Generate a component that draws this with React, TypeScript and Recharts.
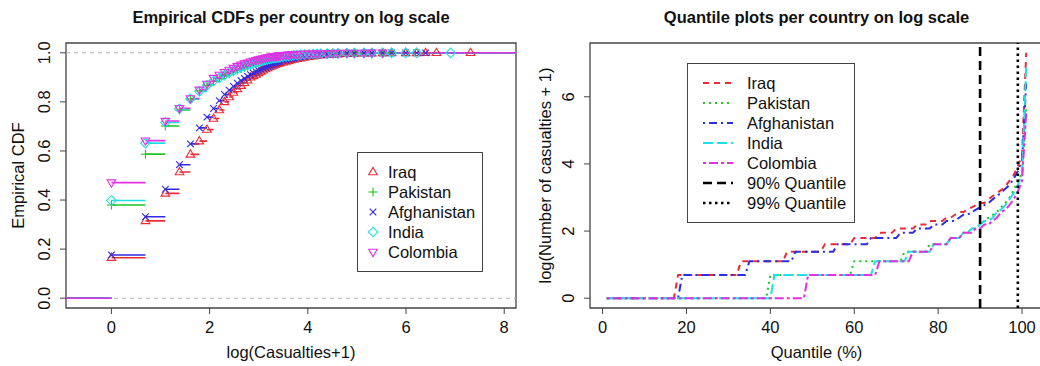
import {
  ComposedChart,
  Line,
  Scatter,
  XAxis,
  YAxis,
  ReferenceLine,
  ReferenceArea,
  Legend,
} from "recharts";

const FONT = '"Liberation Sans", Arial, Helvetica, sans-serif';
const TEXT = "#111";
const FRAME = "#444";
const FS = 16.5;

const countries = ["Iraq", "Pakistan", "Afghanistan", "India", "Colombia"];
const countryColors = ["#ea2c38", "#22c422", "#2c2ce2", "#1fdfe6", "#e230e2"];
const markerKinds = ["triangle", "plus", "cross", "diamond", "triangleDown"];
const lineDashes = ["6 5", "2 4", "2 4 8 4", "10 4", "3 3 9 3"];

// casualty counts where the empirical CDFs were read
const casualties = [
  0, 1, 2, 3, 4, 5, 6, 7, 8, 9,
  10, 11, 12, 13, 14, 15, 16, 17, 18, 19,
  20, 21, 22, 23, 24, 25, 26, 27, 28, 29,
  30, 32, 34, 36, 38, 40, 43, 46, 50, 55,
  60, 65, 70, 80, 90, 100, 120, 140, 170, 200,
  250, 300, 400, 500, 600, 750, 1000, 1500,
];

const iraqCdf = [
  0.165, 0.315, 0.427, 0.514, 0.586, 0.64, 0.687, 0.732, 0.767, 0.8,
  0.82, 0.838, 0.853, 0.866, 0.878, 0.888, 0.9, 0.906, 0.912, 0.918,
  0.924, 0.929, 0.934, 0.938, 0.942, 0.945, 0.948, 0.951, 0.954, 0.956,
  0.958, 0.962, 0.965, 0.968, 0.971, 0.973, 0.976, 0.978, 0.981, 0.984,
  0.986, 0.988, 0.99, 0.992, 0.993, 0.994, 0.996, 0.997, 0.998, 0.9984,
  0.9988, 0.9991, 0.9994, 0.9996, 0.9998, 0.9999, null, 1,
];

const pakistanCdf = [
  0.38, 0.587, 0.702, 0.767, 0.812, 0.845, 0.868, 0.884, 0.895, 0.906,
  0.915, 0.923, 0.93, 0.936, 0.941, 0.946, 0.95, 0.954, 0.957, 0.96,
  0.963, 0.965, 0.967, 0.969, 0.971, 0.973, 0.975, 0.976, 0.977, 0.978,
  0.979, 0.981, 0.983, 0.985, 0.987, 0.99, 0.991, 0.992, 0.993, 0.994,
  0.995, 0.996, 0.9965, 0.997, 0.9975, 0.998, 0.9985, 0.999, 0.9993, 0.9996,
  0.9998, 1, null, null, null, null, null, null,
];

const afghanistanCdf = [
  0.176, 0.332, 0.444, 0.544, 0.629, 0.694, 0.738, 0.773, 0.805, 0.83,
  0.848, 0.863, 0.876, 0.887, 0.896, 0.904, 0.911, 0.917, 0.923, 0.928,
  0.933, 0.937, 0.941, 0.945, 0.948, 0.951, 0.954, 0.957, 0.96, 0.962,
  0.964, 0.968, 0.971, 0.974, 0.976, 0.978, 0.981, 0.983, 0.985, 0.988,
  0.991, 0.992, 0.993, 0.995, 0.996, 0.997, 0.998, 0.9985, 0.999, 0.9993,
  0.9995, 0.9997, 0.9998, 0.9999, 1, null, null, null,
];

const indiaCdf = [
  0.398, 0.632, 0.716, 0.772, 0.812, 0.843, 0.867, 0.885, 0.898, 0.91,
  0.92, 0.928, 0.935, 0.941, 0.946, 0.95, 0.954, 0.958, 0.961, 0.964,
  0.967, 0.969, 0.971, 0.973, 0.975, 0.977, 0.978, 0.979, 0.98, 0.981,
  0.982, 0.984, 0.986, 0.987, 0.988, 0.99, 0.991, 0.992, 0.993, 0.994,
  0.995, 0.9955, 0.996, 0.997, 0.9975, 0.998, 0.9985, 0.999, 0.9992, 0.9994,
  0.9996, 0.9997, 0.9998, 0.9999, null, null, 1, null,
];

const colombiaCdf = [
  0.471, 0.642, 0.722, 0.774, 0.814, 0.849, 0.873, 0.897, 0.91, 0.921,
  0.93, 0.938, 0.945, 0.951, 0.956, 0.96, 0.964, 0.967, 0.97, 0.973,
  0.975, 0.977, 0.979, 0.981, 0.982, 0.984, 0.985, 0.986, 0.987, 0.988,
  0.989, 0.99, 0.991, 0.992, 0.993, 0.9935, 0.994, 0.995, 0.9955, 0.996,
  0.9965, 0.997, 0.9975, 0.998, 0.9985, 0.999, 0.9993, 0.9995, 0.9997, 0.9998,
  1, null, null, null, null, null, null, null,
];

const cdfs = [iraqCdf, pakistanCdf, afghanistanCdf, indiaCdf, colombiaCdf];

const cdfTicks = [0, 0.2, 0.4, 0.6, 0.8, 1];
const logTicks = [0, 2, 4, 6, 8];
const percentTicks = [0, 20, 40, 60, 80, 100];
const logCountTicks = [0, 2, 4, 6];
const quantileMarks = [90, 99];
const quantileMarkLabels = ["90% Quantile", "99% Quantile"];
const quantileMarkDashes = ["9 5", "2.5 3.5"];

const LOG_X: [number, number] = [-0.925, 8.24];
const CDF_Y: [number, number] = [-0.04, 1.04];
const PCT_X: [number, number] = [-3, 105];
const LOGN_Y: [number, number] = [-0.2924, 7.6024];

type Pt = { x: number; y: number | null };

function ecdfPoints(cdf: (number | null)[]): Pt[] {
  const pts: Pt[] = [];
  casualties.forEach((c, i) => {
    const v = cdf[i];
    if (v != null) pts.push({ x: Math.log(c + 1), y: v });
  });
  return pts;
}

// horizontal step pieces, broken with nulls (no verticals, like plot.ecdf)
function ecdfSteps(pts: Pt[]): Pt[] {
  const rows: Pt[] = [
    { x: LOG_X[0], y: 0 },
    { x: pts[0].x, y: 0 },
    { x: pts[0].x, y: null },
  ];
  pts.forEach((p, i) => {
    const next = i + 1 < pts.length ? pts[i + 1].x : LOG_X[1];
    rows.push({ x: p.x, y: p.y }, { x: next, y: p.y }, { x: next, y: null });
  });
  return rows;
}

const percents = Array.from({ length: 101 }, (_, k) => k);

// quantile at each whole percent, drawn at index k+1 (1..101)
function quantileLine(cdf: (number | null)[]): Pt[] {
  return percents.map((k) => {
    const i = cdf.findIndex((v) => v != null && v >= k / 100 - 1e-9);
    return { x: k + 1, y: Math.log(casualties[i] + 1) };
  });
}

function Marker({ kind, cx, cy, color }: { kind: string; cx: number; cy: number; color: string }) {
  const sw = 1.1;
  if (kind === "triangle")
    return <polygon points={`${cx},${cy - 4.6} ${cx - 4.3},${cy + 2.7} ${cx + 4.3},${cy + 2.7}`} fill="none" stroke={color} strokeWidth={sw} />;
  if (kind === "triangleDown")
    return <polygon points={`${cx},${cy + 4.6} ${cx - 4.3},${cy - 2.7} ${cx + 4.3},${cy - 2.7}`} fill="none" stroke={color} strokeWidth={sw} />;
  if (kind === "diamond")
    return <polygon points={`${cx},${cy - 4.8} ${cx + 4.8},${cy} ${cx},${cy + 4.8} ${cx - 4.8},${cy}`} fill="none" stroke={color} strokeWidth={sw} />;
  if (kind === "plus")
    return (
      <g stroke={color} strokeWidth={sw}>
        <line x1={cx - 4.5} y1={cy} x2={cx + 4.5} y2={cy} />
        <line x1={cx} y1={cy - 4.5} x2={cx} y2={cy + 4.5} />
      </g>
    );
  return (
    <g stroke={color} strokeWidth={sw}>
      <line x1={cx - 3.3} y1={cy - 3.3} x2={cx + 3.3} y2={cy + 3.3} />
      <line x1={cx - 3.3} y1={cy + 3.3} x2={cx + 3.3} y2={cy - 3.3} />
    </g>
  );
}

function SideTick(props: any) {
  const { x, y, payload, digits } = props;
  return (
    <text
      x={x}
      y={y}
      dy="0.36em"
      transform={`rotate(-90 ${x} ${y})`}
      textAnchor="middle"
      fontSize={FS}
      fontFamily={FONT}
      fill={TEXT}
    >
      {Number(payload.value).toFixed(digits)}
    </text>
  );
}

const tickStyle = { fontSize: FS, fill: TEXT, fontFamily: FONT };
const legendText = { fontSize: FS, color: TEXT, fontFamily: FONT, lineHeight: "20px", whiteSpace: "nowrap" as const };

function CdfLegend() {
  return (
    <div style={{ border: `1px solid ${FRAME}`, background: "#fff", padding: "9px 0", width: 126, boxSizing: "border-box" }}>
      {countries.map((name, i) => (
        <div key={name} style={{ display: "flex", alignItems: "center", height: 20 }}>
          <svg width={30} height={20} style={{ flex: "none" }}>
            <Marker kind={markerKinds[i]} cx={15} cy={10} color={countryColors[i]} />
          </svg>
          <span style={legendText}>{name}</span>
        </div>
      ))}
    </div>
  );
}

function QuantileLegend() {
  const rows = [
    ...countries.map((name, i) => ({ name, color: countryColors[i], dash: lineDashes[i], w: 2 })),
    ...quantileMarkLabels.map((name, i) => ({ name, color: "#000", dash: quantileMarkDashes[i], w: 2.6 })),
  ];
  return (
    <div style={{ border: `1px solid ${FRAME}`, background: "#fff", padding: "9px 0", width: 168, boxSizing: "border-box" }}>
      {rows.map((r) => (
        <div key={r.name} style={{ display: "flex", alignItems: "center", height: 20 }}>
          <svg width={59} height={20} style={{ flex: "none" }}>
            <line x1={15} y1={10} x2={45} y2={10} stroke={r.color} strokeWidth={r.w} strokeDasharray={r.dash} />
          </svg>
          <span style={legendText}>{r.name}</span>
        </div>
      ))}
    </div>
  );
}

const titleStyle = {
  position: "absolute" as const,
  top: 7,
  fontFamily: FONT,
  fontWeight: "bold" as const,
  fontSize: FS,
  lineHeight: "20px",
  color: TEXT,
  textAlign: "center" as const,
};

export default function App() {
  const points = cdfs.map(ecdfPoints);
  const steps = points.map(ecdfSteps);
  const quantiles = cdfs.map(quantileLine);

  return (
    <div style={{ position: "absolute", left: 0, top: 0, width: 1040, height: 366, overflow: "hidden", background: "#fff" }}>
      <div style={{ position: "absolute", left: 0, top: 0 }}>
        <ComposedChart width={520} height={366} margin={{ top: 43, right: 4, bottom: 0, left: 0 }}>
          <XAxis
            type="number"
            dataKey="x"
            domain={LOG_X}
            ticks={logTicks}
            allowDataOverflow
            axisLine={false}
            tickLine={{ stroke: FRAME }}
            tickSize={6}
            tickMargin={7}
            height={58}
            tick={tickStyle}
            label={{ value: "log(Casualties+1)", position: "insideBottom", offset: 8, fontSize: FS, fill: TEXT, fontFamily: FONT }}
          />
          <YAxis
            type="number"
            dataKey="y"
            domain={CDF_Y}
            ticks={cdfTicks}
            allowDataOverflow
            axisLine={false}
            tickLine={{ stroke: FRAME }}
            tickSize={6}
            tickMargin={16}
            width={66}
            tick={(p: any) => <SideTick {...p} digits={1} />}
            label={{
              value: "Empirical CDF",
              angle: -90,
              position: "insideLeft",
              offset: 18,
              fontSize: FS,
              fill: TEXT,
              fontFamily: FONT,
              style: { textAnchor: "middle" },
            }}
          />
          <ReferenceLine y={0} stroke="#b3b3b3" strokeDasharray="4 4" />
          <ReferenceLine y={1} stroke="#b3b3b3" strokeDasharray="4 4" />
          {countries.map((name, i) => [
            <Line
              key={`${name}-steps`}
              data={steps[i]}
              dataKey="y"
              stroke={countryColors[i]}
              strokeWidth={1.6}
              dot={false}
              activeDot={false}
              connectNulls={false}
              isAnimationActive={false}
            />,
            <Scatter
              key={`${name}-pts`}
              data={points[i]}
              dataKey="y"
              isAnimationActive={false}
              shape={(p: any) => <Marker kind={markerKinds[i]} cx={p.cx} cy={p.cy} color={countryColors[i]} />}
            />,
          ])}
          <ReferenceArea x1={LOG_X[0]} x2={LOG_X[1]} y1={CDF_Y[0]} y2={CDF_Y[1]} fill="none" stroke={FRAME} strokeWidth={1.3} ifOverflow="visible" />
          <Legend
            layout="vertical"
            align="center"
            verticalAlign="middle"
            wrapperStyle={{ left: 357, top: 152, width: 126, height: 119 }}
            content={() => <CdfLegend />}
          />
        </ComposedChart>
        <div style={{ ...titleStyle, left: 66, width: 450 }}>Empirical CDFs per country on log scale</div>
      </div>

      <div style={{ position: "absolute", left: 520, top: 0 }}>
        <ComposedChart width={523} height={366} margin={{ top: 43, right: 0, bottom: 0, left: 0 }}>
          <XAxis
            type="number"
            dataKey="x"
            domain={PCT_X}
            ticks={percentTicks}
            allowDataOverflow
            axisLine={false}
            tickLine={{ stroke: FRAME }}
            tickSize={6}
            tickMargin={7}
            height={58}
            tick={tickStyle}
            label={{ value: "Quantile (%)", position: "insideBottom", offset: 8, fontSize: FS, fill: TEXT, fontFamily: FONT }}
          />
          <YAxis
            type="number"
            dataKey="y"
            domain={LOGN_Y}
            ticks={logCountTicks}
            allowDataOverflow
            axisLine={false}
            tickLine={{ stroke: FRAME }}
            tickSize={6}
            tickMargin={16}
            width={70}
            tick={(p: any) => <SideTick {...p} digits={0} />}
            label={{
              value: "log(Number of casualties + 1)",
              angle: -90,
              position: "insideLeft",
              offset: 25,
              fontSize: FS,
              fill: TEXT,
              fontFamily: FONT,
              style: { textAnchor: "middle" },
            }}
          />
          {countries.map((name, i) => (
            <Line
              key={name}
              data={quantiles[i]}
              dataKey="y"
              stroke={countryColors[i]}
              strokeWidth={2}
              strokeDasharray={lineDashes[i]}
              dot={false}
              activeDot={false}
              isAnimationActive={false}
            />
          ))}
          {quantileMarks.map((q, i) => (
            <ReferenceLine key={q} x={q} stroke="#000" strokeWidth={2.6} strokeDasharray={quantileMarkDashes[i]} />
          ))}
          <ReferenceArea x1={PCT_X[0]} x2={PCT_X[1]} y1={LOGN_Y[0]} y2={LOGN_Y[1]} fill="none" stroke={FRAME} strokeWidth={1.3} ifOverflow="visible" />
          <Legend
            layout="vertical"
            align="center"
            verticalAlign="middle"
            wrapperStyle={{ left: 167, top: 63, width: 168, height: 160 }}
            content={() => <QuantileLegend />}
          />
        </ComposedChart>
        <div style={{ ...titleStyle, left: 70, width: 453 }}>Quantile plots per country on log scale</div>
      </div>
    </div>
  );
}
